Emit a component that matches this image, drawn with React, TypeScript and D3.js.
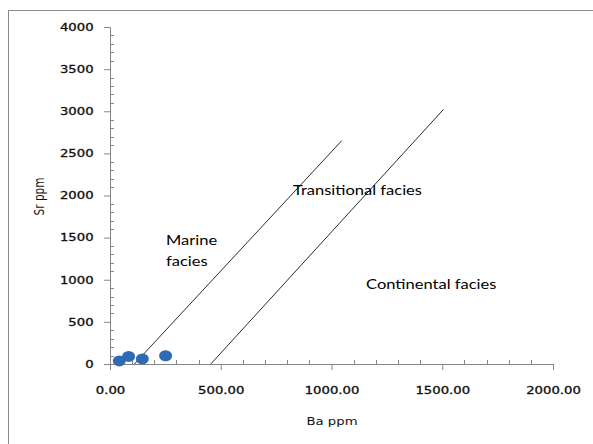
import { useEffect, useRef } from "react";
import * as d3 from "d3";

// sample points (Ba ppm, Sr ppm)
const baValues = [42, 84, 146, 251];
const srValues = [36, 90, 60, 98];

// boundary lines between facies (start / end points)
const marineLine = [
  { ba: 110, sr: 0 },
  { ba: 1046, sr: 2650 },
];
const continentalLine = [
  { ba: 455, sr: 0 },
  { ba: 1505, sr: 3020 },
];

const xTicks = [0, 500, 1000, 1500, 2000];
const yTicks = [0, 500, 1000, 1500, 2000, 2500, 3000, 3500, 4000];

const labels = [
  { text: "Marine", ba: 253, sr: 1409 },
  { text: "facies", ba: 253, sr: 1167 },
  { text: "Transitional facies", ba: 826, sr: 2006 },
  { text: "Continental facies", ba: 1156, sr: 887 },
];

// the screenshot is a bit stretched sideways, so the text is too
const stretch = 1.26;

export default function App() {
  const ref = useRef<SVGSVGElement>(null);

  useEffect(() => {
    const svg = d3.select(ref.current);
    svg.selectAll("*").remove();

    const x = d3.scaleLinear().domain([0, 2000]).range([110, 553]);
    const y = d3.scaleLinear().domain([0, 4000]).range([364, 27]);
    const axisColor = "#868686";
    const tickFont = "'DejaVu Sans', Verdana, sans-serif";

    // outer frame (cut off at right / bottom like the screenshot)
    svg
      .append("rect")
      .attr("x", 8.5)
      .attr("y", 10.5)
      .attr("width", 700)
      .attr("height", 600)
      .attr("fill", "white")
      .attr("stroke", "#8c8c8c");

    // minor ticks (inside)
    svg
      .append("g")
      .selectAll("line")
      .data(d3.range(100, 2001, 100).filter((v) => v % 500 !== 0))
      .enter()
      .append("line")
      .attr("x1", (d) => Math.round(x(d)) + 0.5)
      .attr("x2", (d) => Math.round(x(d)) + 0.5)
      .attr("y1", y(0))
      .attr("y2", y(0) - 4)
      .attr("stroke", axisColor);

    svg
      .append("g")
      .selectAll("line")
      .data(d3.range(100, 4001, 100).filter((v) => v % 500 !== 0))
      .enter()
      .append("line")
      .attr("x1", x(0))
      .attr("x2", x(0) + 4)
      .attr("y1", (d) => Math.round(y(d)) + 0.5)
      .attr("y2", (d) => Math.round(y(d)) + 0.5)
      .attr("stroke", axisColor);

    // x axis
    const xAxis = svg
      .append("g")
      .attr("transform", `translate(0, ${y(0)})`)
      .call(
        d3
          .axisBottom(x)
          .tickValues(xTicks)
          .tickSize(6)
          .tickPadding(17)
          .tickFormat((d) => d3.format(".2f")(d as number))
      );
    xAxis.select(".domain").attr("stroke", axisColor);
    xAxis.selectAll(".tick line").attr("stroke", axisColor);
    xAxis
      .selectAll("text")
      .attr("fill", "#111")
      .attr("stroke", "#111")
      .attr("stroke-width", 0.3)
      .attr("transform", `scale(${stretch},1)`)
      .style("font-family", tickFont)
      .style("font-size", "10.5px");

    // y axis
    const yAxis = svg
      .append("g")
      .attr("transform", `translate(${x(0)}, 0)`)
      .call(
        d3
          .axisLeft(y)
          .tickValues(yTicks)
          .tickSize(6)
          .tickPadding(7)
          .tickFormat((d) => String(d))
      );
    yAxis.select(".domain").attr("stroke", axisColor);
    yAxis.selectAll(".tick line").attr("stroke", axisColor);
    yAxis
      .selectAll("text")
      .attr("fill", "#111")
      .attr("stroke", "#111")
      .attr("stroke-width", 0.3)
      .attr("transform", `scale(${stretch},1)`)
      .style("font-family", tickFont)
      .style("font-size", "10.5px");

    // axis titles
    svg
      .append("text")
      .text("Ba ppm")
      .attr("transform", `translate(332, 425) scale(${stretch},1)`)
      .attr("text-anchor", "middle")
      .style("font-family", tickFont)
      .style("font-size", "10.5px")
      .attr("fill", "#111");

    svg
      .append("text")
      .text("Sr ppm")
      .attr(
        "transform",
        `translate(44, 196.5) scale(${stretch},1) rotate(-90)`
      )
      .attr("text-anchor", "middle")
      .style("font-family", tickFont)
      .style("font-size", "10.5px")
      .attr("fill", "#111");

    // facies boundary lines
    const line = d3
      .line<{ ba: number; sr: number }>()
      .x((d) => x(d.ba))
      .y((d) => y(d.sr));

    [marineLine, continentalLine].forEach((pts) => {
      svg
        .append("path")
        .attr("d", line(pts))
        .attr("fill", "none")
        .attr("stroke", "#2b2b2b")
        .attr("stroke-width", 1);
    });

    // data points
    svg
      .append("g")
      .selectAll("ellipse")
      .data(baValues)
      .enter()
      .append("ellipse")
      .attr("cx", (d) => x(d))
      .attr("cy", (_, i) => y(srValues[i]))
      .attr("rx", 6.5)
      .attr("ry", 5.5)
      .attr("fill", "#2f6bb3");

    // facies labels
    svg
      .append("g")
      .selectAll("text")
      .data(labels)
      .enter()
      .append("text")
      .text((d) => d.text)
      .attr(
        "transform",
        (d) => `translate(${x(d.ba)}, ${y(d.sr)}) scale(1.18,1)`
      )
      .style("font-family", "Lato, 'Open Sans', sans-serif")
      .style("font-size", "14px")
      .attr("fill", "#000");
  }, []);

  return (
    <svg
      ref={ref}
      width={593}
      height={444}
      style={{ position: "absolute", left: 0, top: 0, background: "white" }}
    />
  );
}
